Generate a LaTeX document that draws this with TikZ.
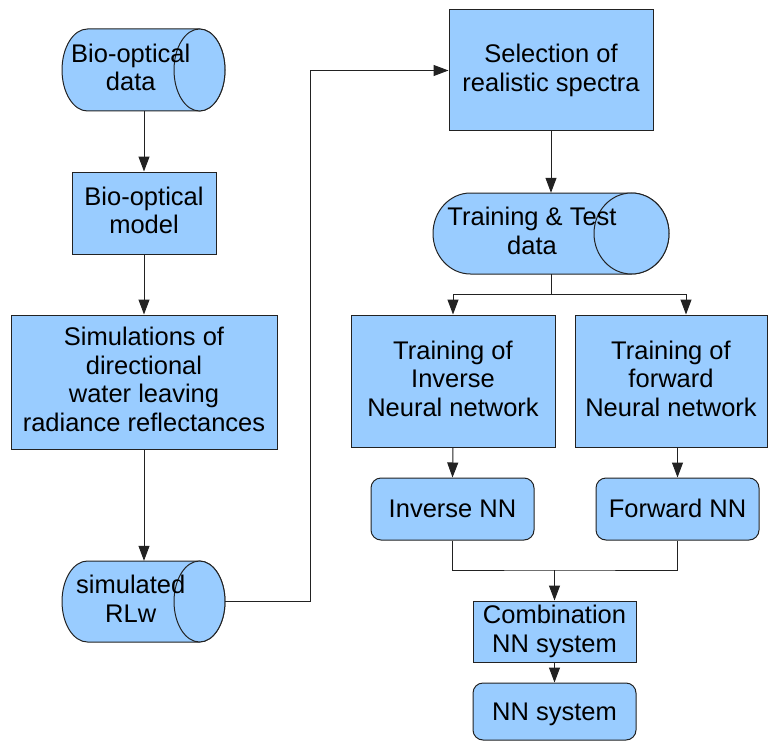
\documentclass[tikz,border=0pt]{standalone}
\usepackage{fontspec}
\setmainfont{Liberation Sans}
\usetikzlibrary{arrows.meta,calc}
\definecolor{boxblue}{HTML}{99CCFF}
\definecolor{edge}{HTML}{222222}
\newcommand\linestrut{\rule[-5.4pt]{0pt}{28.5pt}}
\newcommand\hcyl[5]{% L R T B a
  \pgfmathsetmacro\cylh{(#4-#3)/2}%
  \pgfmathsetmacro\cylm{(#4+#3)/2}%
  \draw[cylshape] ({#2-#5},-#3) -- ({#1+#5},-#3)
    arc[start angle=90,end angle=270,x radius=#5,y radius=\cylh]
    -- ({#2-#5},-#4)
    arc[start angle=-90,end angle=90,x radius=#5,y radius=\cylh] -- cycle;
  \draw[cylshape] ({#2-#5},-\cylm) ellipse[x radius=#5,y radius=\cylh];
}
\begin{document}
\begin{tikzpicture}[x=1pt,y=1pt,
  txt/.style={align=center,font=\fontsize{25.5}{28.5}\selectfont,text=black,
    execute at begin node=\linestrut,execute at end node=\linestrut},
  box/.style={txt,draw=edge,fill=boxblue,line width=1pt,inner sep=0pt},
  rbox/.style={box,rounded corners=10pt},
  cylshape/.style={draw=edge,fill=boxblue,line width=1pt},
  ghost/.style={inner sep=0pt},
  conn/.style={draw=edge,line width=1pt},
  arr/.style={conn,-{Triangle[length=15pt,width=11pt]}}]
\useasboundingbox (0,0) rectangle (768,-741);

% cylinders
\hcyl{62}{225}{29}{111}{25.5}
\node[ghost,minimum width=163pt,minimum height=82pt] (c1) at (143.5,-70) {};
\node[txt] (c1t) at (130.75,-70) {Bio-optical\\data};

\hcyl{433}{669}{193}{274}{37.5}
\node[ghost,minimum width=236pt,minimum height=81pt] (c2) at (551,-233.5) {};
\node[txt] (c2t) at (532,-233.5) {Training \& Test\\data};

\hcyl{62}{225}{561}{642}{25.5}
\node[ghost,minimum width=163pt,minimum height=81pt] (c3) at (143.5,-601.5) {};
\node[txt] (c3t) at (130.75,-601.5) {simulated\\RLw};

% boxes
\node[box,minimum width=144pt,minimum height=82pt] (bom) at (144,-213) {Bio-optical\\model};
\node[box,minimum width=266pt,minimum height=134pt] (sim) at (144,-382) {Simulations of\\directional\\water leaving\\radiance reflectances};
\node[box,minimum width=204pt,minimum height=121pt] (sel) at (551,-70.5) {Selection of\\realistic spectra};
\node[box,minimum width=204pt,minimum height=132pt] (tinv) at (453,-381) {Training of\\Inverse\\Neural network};
\node[box,minimum width=192pt,minimum height=132pt] (tfwd) at (671,-381) {Training of\\forward\\Neural network};
\node[rbox,minimum width=163pt,minimum height=62pt] (inv) at (452.5,-509) {Inverse NN};
\node[rbox,minimum width=163pt,minimum height=62pt] (fwd) at (677.5,-509) {Forward NN};
\node[box,minimum width=163pt,minimum height=61pt] (comb) at (554.5,-631.5) {Combination\\NN system};
\node[rbox,minimum width=163pt,minimum height=57pt] (nns) at (554.5,-711.5) {NN system};

% connectors
\draw[arr] (bom.north |- c1.south) -- (bom.north);
\draw[arr] (bom.south) -- (sim.north);
\draw[arr] (sim.south) -- (sim.south |- c3.north);
\draw[arr] (c3.east) -- ++(85,0) |- (sel.west);
\draw[arr] (sel.south) -- (c2.north);
\draw[conn] (c2.south) -- ++(0,-20) coordinate (split);
\draw[arr] (split) -| (tinv.north);
\draw[arr] (split) -| ($(tfwd.north)+(15,0)$);
\draw[arr] (tinv.south) -- (inv.north);
\draw[arr] (fwd.north |- tfwd.south) -- (fwd.north);
\coordinate (join) at (554.5,-570);
\draw[conn] (inv.south) |- (join) -| (fwd.south);
\draw[arr] (join) -- (comb.north);
\draw[arr] (comb.south) -- (nns.north);
\end{tikzpicture}
\end{document}
